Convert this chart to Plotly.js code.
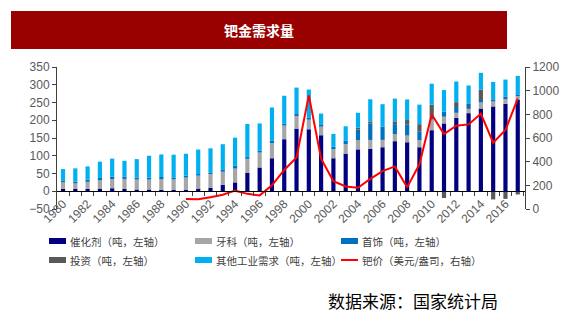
<!DOCTYPE html>
<html>
<head>
<meta charset="utf-8">
<script src="https://cdn.plot.ly/plotly-3.0.1.min.js"></script>
<style>
html,body{margin:0;padding:0;background:#fff;}
#chart{width:578px;height:321px;}
</style>
</head>
<body>
<div id="chart"></div>
<script>
// ---- data ----
var years = [1980,1981,1982,1983,1984,1985,1986,1987,1988,1989,1990,1991,1992,1993,1994,1995,1996,1997,1998,1999,2000,2001,2002,2003,2004,2005,2006,2007,2008,2009,2010,2011,2012,2013,2014,2015,2016,2017];
var catalyst = [6.5,6.5,7,7.5,8.5,6.7,5,5,4.5,4.5,4.5,7.5,10,17.7,25,52,67,93,146.6,176.5,174.6,157.8,93,106,118,119.5,124,141,138,124,172,191,207,220,233,239,246.5,258];
var dental = [19,15.5,19.5,23.5,26,28,28,28,30,29,34,36.5,38.5,37.3,39,39.5,42,43,38.4,35.5,27,24.2,25.6,27,26,25,20.7,20,19,20,30,19,14,12,17,14,13,10];
var jewelry = [5,5,6,6.5,7,7,5.5,5.5,5.5,5.5,5.5,4.5,4.5,5,8,5.5,6,7,6,5.5,6.4,6.6,7.4,9,30,46,37,28,31.6,25,12,14,16,11,7,6,7.5,5];
var investment = [0,0,0,0,0,0,0,0,0,0,0,0,0,0,0,0,0,0,0,0,0,0,0,0,5,6,0,8,12,20,30,-19,14,3,29,-23,-21.5,-9];
var otherIndustrial = [32,37.5,37.5,45.7,50.5,44,52,61.5,63.7,64,61.6,69,68,72.5,79,92.5,76,93,78,74.5,78.5,30.4,35.5,41,42,62.6,63.5,64,58,55,59,61,58,52,47.6,49,47.6,52];
var priceYears = [1990,1991,1992,1993,1994,1995,1996,1997,1998,1999,2000,2001,2002,2003,2004,2005,2006,2007,2008,2009,2010,2011,2012,2013,2014,2015,2016,2017];
var price = [85,82,100,120,155,128,115,200,330,435,960,425,235,190,180,255,320,360,183,378,798,634,704,715,805,561,667,932];
var tickYears = [1980,1982,1984,1986,1988,1990,1992,1994,1996,1998,2000,2002,2004,2006,2008,2010,2012,2014,2016];
var tickLabels = tickYears.map(String);
var seriesNames = ['催化剂（吨，左轴）','牙科（吨，左轴）','首饰（吨，左轴）','投资（吨，左轴）','其他工业需求（吨，左轴）','钯价（美元/盎司，右轴）'];
var colors = ['#000080','#A6A6A6','#0070C0','#595959','#00B0F0','#FF0000'];

// ---- geometry helpers (pixel -> paper) ----
var ML = 57, MR = 53, MT = 67, MB = 112, W = 578, H = 321;
var PW = W - ML - MR, PH = H - MT - MB;
function px(X){ return (X - ML) / PW; }
function py(Y){ return (H - MB - Y) / PH; }

var barSeries = [catalyst, dental, jewelry, investment, otherIndustrial];
var traces = barSeries.map(function(vals, i){
  return {type:'bar', x:years, y:vals, name:seriesNames[i], width:0.34,
          marker:{color:colors[i], line:{width:0}}, hoverinfo:'skip'};
});
traces.push({type:'scatter', mode:'lines', x:priceYears, y:price, yaxis:'y2',
             name:seriesNames[5], line:{color:colors[5], width:2}, hoverinfo:'skip'});

var shapes = [
  {type:'rect', xref:'paper', yref:'paper', x0:px(11), x1:px(507), y0:py(49), y1:py(11),
   fillcolor:'#990000', line:{width:0}, layer:'below'}
];
var annotations = [
  {xref:'paper', yref:'paper', x:px(259), y:py(30), xanchor:'center', yanchor:'middle', showarrow:false,
   text:'<b>钯金需求量</b>', font:{family:'Noto Sans CJK SC', size:14, color:'#ffffff'}},
  {xref:'paper', yref:'paper', x:px(500), y:py(300), xanchor:'right', yanchor:'middle', showarrow:false,
   text:'数据来源：国家统计局', font:{family:'Noto Sans CJK SC', size:17, color:'#000000'}}
];
var legendCols = [49, 195, 341];
var legendRows = [241, 260];
for (var i = 0; i < 6; i++) {
  var c = i % 3, r = Math.floor(i / 3);
  var X0 = legendCols[c], Yc = legendRows[r];
  if (i < 5) {
    shapes.push({type:'rect', xref:'paper', yref:'paper', x0:px(X0), x1:px(X0+17), y0:py(Yc+3), y1:py(Yc-3),
                 fillcolor:colors[i], line:{width:0}});
  } else {
    shapes.push({type:'line', xref:'paper', yref:'paper', x0:px(X0), x1:px(X0+17), y0:py(Yc), y1:py(Yc),
                 line:{color:colors[i], width:2}});
  }
  annotations.push({xref:'paper', yref:'paper', x:px(X0+19), y:py(Yc), xanchor:'left', yanchor:'middle',
                    showarrow:false, text:seriesNames[i],
                    font:{family:'Noto Sans CJK SC', size:10.5, color:'#404040'}});
}

var tickFont = {family:'Liberation Sans, Arial, sans-serif', size:12, color:'#595959'};
var layout = {
  width:W, height:H,
  margin:{l:ML, r:MR, t:MT, b:MB, pad:0},
  paper_bgcolor:'#ffffff', plot_bgcolor:'#ffffff',
  showlegend:false,
  barmode:'relative',
  xaxis:{type:'linear', range:[1979.51, 2017.59], anchor:'free', position:0.125,
         showline:true, linecolor:'#000000', linewidth:1, showgrid:false, zeroline:false,
         tickmode:'array', tickvals:tickYears, ticktext:tickLabels, tickangle:-45,
         ticks:'', tickfont:tickFont,
         minor:{tickmode:'linear', tick0:1979.5, dtick:1, ticks:'outside', ticklen:4, tickcolor:'#404040', showgrid:false}},
  yaxis:{range:[-50,350], dtick:50, tick0:-50, showgrid:false, zeroline:false,
         showline:true, linecolor:'#404040', linewidth:1, ticks:'outside', ticklen:4, tickcolor:'#404040',
         tickfont:tickFont},
  yaxis2:{overlaying:'y', side:'right', range:[0,1200], dtick:200, showgrid:false, zeroline:false,
          showline:true, linecolor:'#404040', linewidth:1, ticks:'outside', ticklen:4, tickcolor:'#404040',
          tickfont:tickFont},
  shapes:shapes,
  annotations:annotations
};
Plotly.newPlot('chart', traces, layout, {staticPlot:true, displayModeBar:false});
</script>
</body>
</html>
